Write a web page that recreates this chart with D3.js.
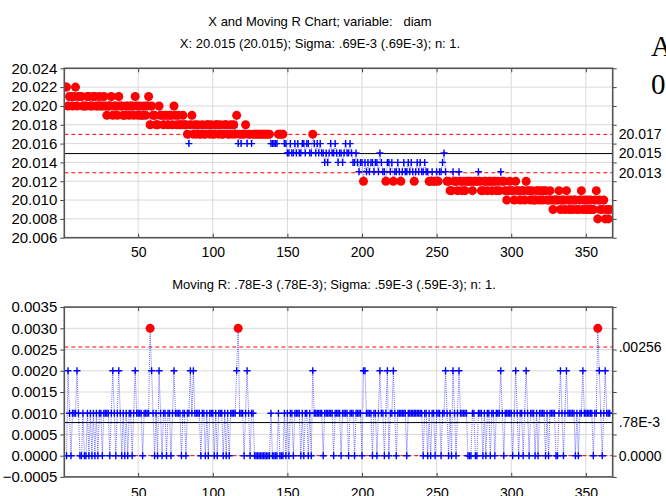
<!DOCTYPE html>
<html>
<head>
<meta charset="utf-8">
<script src="https://cdn.jsdelivr.net/npm/d3@7"></script>
<style>
  body { margin: 0; background: #fff; }
  svg text { font-family: "Liberation Sans", Arial, sans-serif; fill: #000; white-space: pre; }
</style>
</head>
<body>
<svg id="chart" width="666" height="496"></svg>
<script>
// Individual measurements of "diam", in sample order (1..366)
const diamValues = [
  20.022,20.022,20.020,20.021,20.021,20.020,20.021,20.022,20.020,20.021,
  20.021,20.021,20.020,20.020,20.020,20.021,20.021,20.020,20.020,20.021,
  20.021,20.020,20.020,20.021,20.020,20.020,20.021,20.020,20.019,20.020,
  20.020,20.021,20.019,20.020,20.020,20.019,20.021,20.020,20.020,20.019,
  20.019,20.020,20.020,20.019,20.020,20.020,20.019,20.021,20.020,20.019,
  20.020,20.019,20.019,20.020,20.019,20.020,20.021,20.018,20.020,20.019,
  20.019,20.018,20.018,20.020,20.019,20.019,20.018,20.019,20.019,20.018,
  20.019,20.019,20.018,20.020,20.019,20.018,20.019,20.018,20.018,20.019,
  20.018,20.018,20.017,20.016,20.018,20.019,20.017,20.018,20.017,20.018,
  20.017,20.017,20.018,20.017,20.017,20.018,20.018,20.017,20.018,20.017,
  20.017,20.018,20.018,20.017,20.018,20.017,20.017,20.018,20.018,20.017,
  20.017,20.018,20.017,20.018,20.017,20.019,20.016,20.017,20.016,20.017,
  20.017,20.018,20.016,20.017,20.017,20.016,20.017,20.017,20.017,20.017,
  20.017,20.017,20.017,20.017,20.017,20.017,20.017,20.017,20.016,20.016,
  20.016,20.016,20.016,20.017,20.017,20.017,20.017,20.016,20.016,20.015,
  20.015,20.016,20.015,20.015,20.016,20.015,20.016,20.015,20.015,20.016,
  20.016,20.015,20.016,20.016,20.015,20.015,20.017,20.016,20.015,20.016,
  20.015,20.016,20.015,20.015,20.014,20.015,20.014,20.015,20.016,20.015,
  20.015,20.016,20.015,20.014,20.015,20.015,20.014,20.015,20.016,20.015,
  20.015,20.016,20.015,20.014,20.014,20.015,20.014,20.013,20.014,20.014,
  20.012,20.014,20.013,20.014,20.013,20.014,20.014,20.013,20.014,20.014,
  20.013,20.015,20.014,20.013,20.013,20.012,20.014,20.014,20.013,20.014,
  20.012,20.013,20.013,20.014,20.013,20.012,20.013,20.014,20.013,20.013,
  20.014,20.013,20.014,20.013,20.012,20.013,20.014,20.013,20.014,20.013,
  20.013,20.014,20.013,20.013,20.012,20.012,20.013,20.012,20.012,20.013,
  20.012,20.013,20.013,20.014,20.015,20.013,20.012,20.012,20.011,20.011,
  20.013,20.012,20.012,20.011,20.013,20.012,20.011,20.012,20.011,20.012,
  20.012,20.012,20.012,20.011,20.012,20.012,20.012,20.013,20.012,20.011,
  20.011,20.012,20.012,20.011,20.012,20.012,20.011,20.012,20.012,20.011,
  20.012,20.011,20.013,20.012,20.012,20.011,20.010,20.011,20.012,20.011,
  20.011,20.010,20.012,20.011,20.011,20.010,20.011,20.011,20.010,20.012,
  20.011,20.011,20.010,20.011,20.010,20.010,20.011,20.011,20.010,20.011,
  20.010,20.011,20.011,20.010,20.010,20.011,20.010,20.009,20.010,20.010,
  20.010,20.011,20.009,20.010,20.010,20.009,20.011,20.010,20.009,20.010,
  20.009,20.010,20.010,20.009,20.009,20.010,20.011,20.009,20.010,20.009,
  20.010,20.009,20.010,20.009,20.009,20.010,20.011,20.008,20.010,20.009,
  20.009,20.010,20.008,20.009,20.008,20.009
];

// Control limits: [UCL, centre, LCL] and their printed labels
const xLimitValues = [20.01698, 20.01494, 20.01290];
const xLimitLabels = ["20.017", "20.015", "20.013"];
const mrLimitValues = [0.00256, 0.00078, 0];
const mrLimitLabels = [".00256", ".78E-3", "0.0000"];

// Tick values
const sampleTicks = [50, 100, 150, 200, 250, 300, 350];
const xChartTicks = [20.006, 20.008, 20.010, 20.012, 20.014, 20.016, 20.018, 20.020, 20.022, 20.024];
const mrChartTicks = [-0.0005, 0, 0.0005, 0.0010, 0.0015, 0.0020, 0.0025, 0.0030, 0.0035];

// Titles
const titleLines = ["X and Moving R Chart; variable:   diam",
                    "X: 20.015 (20.015); Sigma: .69E-3 (.69E-3); n: 1."];
const mrTitle = "Moving R: .78E-3 (.78E-3); Sigma: .59E-3 (.59E-3); n: 1.";

// Moving range of consecutive individuals (defined from sample 2 on)
const xPoints = diamValues.map((v, k) => ({ i: k + 1, v }));
const mrPoints = diamValues.slice(1).map((v, k) => ({
  i: k + 2,
  v: Math.round(Math.abs(v - diamValues[k]) * 1e6) / 1e6
}));

const svg = d3.select("#chart");
svg.append("rect").attr("width", 666).attr("height", 496).attr("fill", "#fff");

const x = d3.scaleLinear().domain([0.5, 368]).range([64.3, 612.7]);
const plotL = x.range()[0], plotR = x.range()[1];

svg.selectAll("text.title").data(titleLines).join("text")
  .attr("class", "title")
  .attr("x", 320).attr("y", (d, k) => 26 + k * 22)
  .attr("text-anchor", "middle").attr("font-size", 13)
  .attr("xml:space", "preserve")
  .text(d => d);

svg.append("text").attr("x", 334).attr("y", 289)
  .attr("text-anchor", "middle").attr("font-size", 13).text(mrTitle);

// Partially visible text at the right edge of the page
svg.append("text").attr("x", 651).attr("y", 56)
  .style("font-family", '"Liberation Serif", "Times New Roman", serif')
  .attr("font-size", 29).text("A");
svg.append("text").attr("x", 651).attr("y", 94)
  .style("font-family", '"Liberation Serif", "Times New Roman", serif')
  .attr("font-size", 29).text("0");

function drawPanel(cfg) {
  const y = d3.scaleLinear().domain(cfg.domain).range([cfg.bottom, cfg.top]);
  const g = svg.append("g");
  const clipId = "clip-" + cfg.name;
  svg.append("clipPath").attr("id", clipId)
    .append("rect").attr("x", plotL).attr("y", cfg.top)
    .attr("width", plotR - plotL).attr("height", cfg.bottom - cfg.top);

  // grid
  g.append("g").selectAll("line").data(sampleTicks).join("line")
    .attr("x1", d => x(d)).attr("x2", d => x(d))
    .attr("y1", cfg.top).attr("y2", cfg.bottom)
    .attr("stroke", "#d9d9d9").attr("stroke-width", 1);
  g.append("g").selectAll("line").data(cfg.ticks).join("line")
    .attr("x1", plotL).attr("x2", plotR)
    .attr("y1", d => y(d)).attr("y2", d => y(d))
    .attr("stroke", "#d9d9d9").attr("stroke-width", 1);

  const inner = g.append("g").attr("clip-path", `url(#${clipId})`);

  // control limits and centre line
  inner.selectAll("line.limit").data(cfg.limits).join("line")
    .attr("class", "limit")
    .attr("x1", plotL).attr("x2", plotR)
    .attr("y1", d => y(d)).attr("y2", d => y(d))
    .attr("stroke", (d, k) => k === 1 ? "#000" : "#ff0000")
    .attr("stroke-width", 1)
    .attr("stroke-dasharray", (d, k) => k === 1 ? null : "4,3");

  // connecting line
  inner.append("path").datum(cfg.points)
    .attr("d", d3.line().x(d => x(d.i)).y(d => y(d.v)))
    .attr("fill", "none").attr("stroke", "#3030ff").attr("stroke-opacity", 0.7)
    .attr("stroke-width", 1).attr("stroke-dasharray", "1,1");

  const ucl = cfg.limits[0], lcl = cfg.limits[2];
  const outside = d => d.v > ucl || d.v < lcl;

  inner.selectAll("path.plus").data(cfg.points.filter(d => !outside(d))).join("path")
    .attr("class", "plus")
    .attr("d", d => `M${x(d.i) - 3.5},${y(d.v)}H${x(d.i) + 3.5}M${x(d.i)},${y(d.v) - 3.5}V${y(d.v) + 3.5}`)
    .attr("stroke", "#0000ff").attr("stroke-width", 1.4).attr("fill", "none");

  inner.selectAll("circle").data(cfg.points.filter(outside)).join("circle")
    .attr("cx", d => x(d.i)).attr("cy", d => y(d.v)).attr("r", 4.5)
    .attr("fill", "#ff0000");

  // axes
  const left = g.append("g").attr("transform", `translate(${plotL},0)`)
    .call(d3.axisLeft(y).tickValues(cfg.ticks).tickFormat(d3.format(cfg.fmt)).tickSize(4).tickPadding(3));
  left.select(".domain").remove();
  left.selectAll("text").attr("font-size", 15).style("font-family", '"Liberation Sans", Arial, sans-serif');
  left.selectAll("line").attr("stroke", "#444");

  const right = g.append("g").attr("transform", `translate(${plotR},0)`)
    .call(d3.axisRight(y).tickValues(cfg.ticks).tickFormat("").tickSize(4));
  right.select(".domain").remove();
  right.selectAll("line").attr("stroke", "#444");

  const bottom = g.append("g").attr("transform", `translate(0,${cfg.bottom})`)
    .call(d3.axisBottom(x).tickValues(sampleTicks).tickFormat(d3.format("d")).tickSize(-4).tickPadding(cfg.xPad));
  bottom.select(".domain").remove();
  bottom.selectAll("text").attr("font-size", 14).style("font-family", '"Liberation Sans", Arial, sans-serif');
  bottom.selectAll("line").attr("stroke", "#444");

  const topAx = g.append("g").attr("transform", `translate(0,${cfg.top})`)
    .call(d3.axisTop(x).tickValues(sampleTicks).tickFormat("").tickSize(-4));
  topAx.select(".domain").remove();
  topAx.selectAll("line").attr("stroke", "#444");

  // frame
  g.append("rect").attr("x", plotL).attr("y", cfg.top)
    .attr("width", plotR - plotL).attr("height", cfg.bottom - cfg.top)
    .attr("fill", "none").attr("stroke", "#555").attr("stroke-width", 1.6);

  // limit labels on the right
  g.selectAll("text.lim").data(cfg.limitLabels).join("text")
    .attr("class", "lim")
    .attr("x", plotR + 6).attr("y", (d, k) => y(cfg.limits[k]))
    .attr("dy", "0.35em").attr("font-size", 14).text(d => d);
}

drawPanel({
  name: "x", domain: [20.006, 20.024], top: 68.3, bottom: 237.7,
  ticks: xChartTicks, fmt: ".3f", points: xPoints,
  limits: xLimitValues, limitLabels: xLimitLabels, xPad: 9
});

drawPanel({
  name: "mr", domain: [-0.0005, 0.0035], top: 307.1, bottom: 476.9,
  ticks: mrChartTicks, fmt: ".4f", points: mrPoints,
  limits: mrLimitValues, limitLabels: mrLimitLabels, xPad: 11
});
</script>
</body>
</html>
